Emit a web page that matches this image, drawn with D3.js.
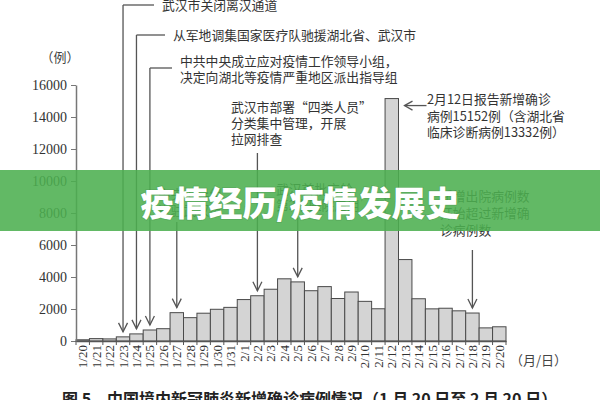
<!DOCTYPE html>
<html><head><meta charset="utf-8">
<script src="https://cdn.jsdelivr.net/npm/d3@7"></script>
<style>
html,body{margin:0;padding:0;background:#fff;}
svg{display:block;}
text{font-family:"Liberation Serif","DejaVu Serif","Noto Sans CJK SC",serif;}
.cjk{font-family:"Noto Sans CJK SC",sans-serif;}
</style></head>
<body><svg id="c" width="600" height="400"></svg>
<script>
const dates = ["1/20","1/21","1/22","1/23","1/24","1/25","1/26","1/27","1/28","1/29","1/30","1/31",
  "2/1","2/2","2/3","2/4","2/5","2/6","2/7","2/8","2/9","2/10","2/11","2/12","2/13","2/14","2/15",
  "2/16","2/17","2/18","2/19","2/20"];
const cases = [77,149,131,259,444,688,769,1771,1459,1737,1982,2102,2590,2829,3235,3887,3694,3143,
  3399,2656,3062,2478,2015,15152,5090,2641,2009,2048,1886,1749,820,889];
const yTicks = [0,2000,4000,6000,8000,10000,12000,14000,16000];
const title = "疫情经历/疫情发展史";
const caption = "图 5　中国境内新冠肺炎新增确诊病例情况（1 月 20 日至 2 月 20 日）";
// annotations: target date, text lines
const topNotes = [
  {date:"1/23", lines:["武汉市关闭离汉通道"]},
  {date:"1/24", lines:["从军地调集国家医疗队驰援湖北省、武汉市"]},
  {date:"1/25", lines:["中共中央成立应对疫情工作领导小组，","决定向湖北等疫情严重地区派出指导组"]}
];
const sideNotes = [
  {date:"1/27", lines:["中央指导组","进驻武汉市"]},
  {date:"2/2", lines:["武汉市部署“四类人员”","分类集中管理，开展","拉网排查"]},
  {date:"2/5", lines:["武汉首批方舱","第2批医院启用"]},
  {date:"2/18", lines:["新增出院病例数","开始超过新增确","诊病例数"]}
];
const peakNote = {date:"2/12", lines:["2月12日报告新增确诊","病例15152例（含湖北省","临床诊断病例13332例）"]};

const svg = d3.select("#c");
const x = d3.scaleBand().domain(dates).range([76,506]).padding(0);
const y = d3.scaleLinear().domain([0,16000]).range([341,85]);
const ink = "#555";

// bars
svg.append("g").selectAll("rect").data(dates).join("rect")
  .attr("x", d=>x(d)).attr("width", x.bandwidth())
  .attr("y", (d,i)=>y(cases[i])).attr("height", (d,i)=>y(0)-y(cases[i]))
  .attr("fill","#d4d4d4").attr("stroke","#4a4a4a").attr("stroke-width",1);

// y axis
const ya = svg.append("g").attr("transform","translate(76,0)")
  .call(d3.axisLeft(y).tickValues(yTicks).tickFormat(d3.format("d")).tickSize(5).tickSizeOuter(0).tickPadding(4));
ya.select(".domain").attr("stroke","#777").attr("stroke-width",1.5);
ya.selectAll(".tick line").attr("stroke","#777");
ya.selectAll(".tick text").attr("font-size",14).attr("fill","#333")
  .style("font-family","'Liberation Serif',serif");

// x axis
const xa = svg.append("g").attr("transform","translate(0,341)")
  .call(d3.axisBottom(x).tickSize(0).tickSizeOuter(0).tickPadding(0));
xa.select(".domain").attr("stroke","#555").attr("stroke-width",1.5);
xa.selectAll(".tick text").attr("font-size",13).attr("fill","#333")
  .style("font-family","'Liberation Serif',serif")
  .attr("transform","rotate(-90)").attr("text-anchor","end")
  .attr("x",-4).attr("y",0).attr("dy","0.35em");
// boundary ticks
svg.append("g").selectAll("line").data(dates.concat(["end"])).join("line")
  .attr("x1",(d,i)=> i<dates.length ? x(d) : x.range()[1])
  .attr("x2",(d,i)=> i<dates.length ? x(d) : x.range()[1])
  .attr("y1",341).attr("y2",345).attr("stroke","#555");

svg.append("text").attr("class","cjk").attr("x",60).attr("y",62).attr("text-anchor","middle")
  .attr("font-size",13).attr("fill","#444").text("（例）");
svg.append("text").attr("class","cjk").attr("x",510).attr("y",365)
  .attr("font-size",13).attr("fill","#444").text("（月/日）");

const cx = d => x(d) + x.bandwidth()/2;
const val = d => cases[dates.indexOf(d)];
function arrowDown(xp, y0, tip){
  svg.append("line").attr("x1",xp).attr("x2",xp).attr("y1",y0).attr("y2",tip)
    .attr("stroke",ink).attr("stroke-width",1.3);
  svg.append("path").attr("d",`M${xp-4.5},${tip-9}L${xp},${tip}L${xp+4.5},${tip-9}`)
    .attr("fill","none").attr("stroke",ink).attr("stroke-width",1.3);
}
function lines(g, arr, x0, y0, dy, anchor){
  arr.forEach((t,i)=>g.append("text").attr("class","cjk").attr("x",x0).attr("y",y0+i*dy)
    .attr("font-size",12.8).attr("fill","#333").attr("text-anchor",anchor||"start").text(t));
}
const tg = svg.append("g");
// top notes with elbow lines
const topY = [5, 35, 68];
const textX = [162, 173, 180];
const textY = [10, 40, 66];
topNotes.forEach((n,i)=>{
  const xp = cx(n.date);
  svg.append("line").attr("x1",xp).attr("x2",textX[i]-8).attr("y1",topY[i]).attr("y2",topY[i])
    .attr("stroke",ink).attr("stroke-width",1.3);
  arrowDown(xp, topY[i], y(val(n.date))-5);
  lines(tg, n.lines, textX[i], textY[i], 16);
});
// side notes
const sideCfg = [
  {tx:158, ty:199, y0:222},
  {tx:231, ty:112, y0:153},
  {tx:276, ty:194, y0:218},
  {tx:440, ty:201, y0:250}
];
sideNotes.forEach((n,i)=>{
  const c = sideCfg[i];
  lines(tg, n.lines, c.tx, c.ty, i===3?17:16);
  arrowDown(cx(n.date), c.y0, y(val(n.date))-5);
});
// peak note
const px = x(peakNote.date) + x.bandwidth() + 6;
const py = y(val(peakNote.date)) + 7;
svg.append("line").attr("x1",px).attr("x2",px+22).attr("y1",py).attr("y2",py).attr("stroke",ink).attr("stroke-width",1.3);
svg.append("path").attr("d",`M${px+8},${py-4.5}L${px},${py}L${px+8},${py+4.5}`)
  .attr("fill","none").attr("stroke",ink).attr("stroke-width",1.3);
lines(tg, peakNote.lines, 427, 104, 16.5);

// caption (cut off at bottom)
svg.append("text").attr("class","cjk").attr("x",62).attr("y",405).attr("font-size",16)
  .attr("font-weight",700).attr("fill","#222").text(caption);

// banner
svg.append("rect").attr("x",0).attr("y",170).attr("width",600).attr("height",61)
  .attr("fill","rgb(76,175,80)").attr("opacity",0.88);
svg.append("text").attr("class","cjk").attr("x",300).attr("y",201)
  .attr("text-anchor","middle").attr("dominant-baseline","central")
  .attr("font-size",34).attr("font-weight",900).attr("fill","#fff")
  .style("paint-order","stroke").attr("stroke","rgba(0,0,0,0.08)").attr("stroke-width",2)
  .text(title);
</script></body></html>
